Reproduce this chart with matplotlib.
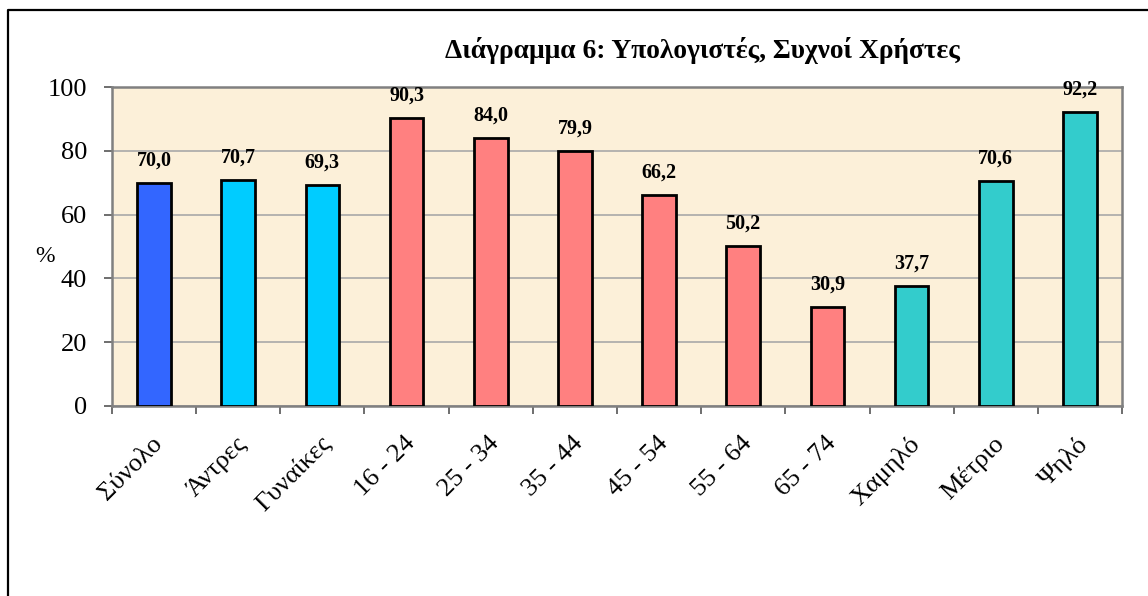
import matplotlib
matplotlib.use("Agg")
import matplotlib.pyplot as plt
from matplotlib.lines import Line2D

categories = ["Σύνολο", "Άντρες", "Γυναίκες", "16 - 24", "25 - 34", "35 - 44",
              "45 - 54", "55 - 64", "65 - 74", "Χαμηλό", "Μέτριο", "Ψηλό"]
values = [70.0, 70.7, 69.3, 90.3, 84.0, 79.9, 66.2, 50.2, 30.9, 37.7, 70.6, 92.2]
value_labels = ["70,0", "70,7", "69,3", "90,3", "84,0", "79,9", "66,2", "50,2",
                "30,9", "37,7", "70,6", "92,2"]
colors = ["#3366FF", "#00CCFF", "#00CCFF", "#FF8080", "#FF8080", "#FF8080",
          "#FF8080", "#FF8080", "#FF8080", "#33CCCC", "#33CCCC", "#33CCCC"]
yticks = [0, 20, 40, 60, 80, 100]
title = "Διάγραμμα 6: Υπολογιστές, Συχνοί Χρήστες"

plt.rcParams['font.family'] = ['Liberation Serif', 'DejaVu Serif']

fig = plt.figure(figsize=(11.48, 5.96), dpi=100)
W, H = 1148, 596
ax = fig.add_axes([112 / W, 1 - 406 / H, (1122 - 112) / W, (406 - 87) / H])
ax.set_facecolor("#FCF0D9")

x = list(range(len(categories)))
ax.bar(x, values, width=0.40, color=colors, edgecolor="black", linewidth=2, zorder=3)

for xi, v, lab in zip(x, values, value_labels):
    ax.annotate(lab, (xi, v), xytext=(0, 9), textcoords="offset points",
                ha="center", va="bottom", fontsize=14.5, fontweight="bold", zorder=4)

ax.set_xlim(-0.5, len(categories) - 0.5)
ax.set_ylim(0, 100)
ax.set_yticks(yticks)
ax.set_yticklabels([str(t) for t in yticks], fontsize=19)
ax.yaxis.grid(True, color="#A8A8A8", linewidth=1.2, zorder=1)
ax.tick_params(axis="y", direction="out", length=6, width=1.2, color="#555555", pad=12)

ax.set_xticks([i - 0.5 for i in range(len(categories) + 1)])
ax.set_xticklabels([])
ax.tick_params(axis="x", direction="out", length=6, width=1.2, color="#555555")
for xi, lab in zip(x, categories):
    ax.annotate(lab, (xi, 0), xytext=(-2, -19), textcoords="offset points",
                rotation=45, rotation_mode="anchor", ha="right", va="top",
                fontsize=19, annotation_clip=False)

for s in ax.spines.values():
    s.set_color("#808080")
    s.set_linewidth(1.8)

fig.text(45 / W, 1 - 256 / H, "%", fontsize=17, ha="center", va="center")
fig.text(702 / W, 1 - 50 / H, title, fontsize=19.8, fontweight="bold",
         ha="center", va="center")

fig.add_artist(Line2D([8 / W, 8 / W, 1.0], [0, 1 - 10 / H, 1 - 10 / H],
                      transform=fig.transFigure, color="black", linewidth=1.6))

fig.savefig("out.png", dpi=100)
